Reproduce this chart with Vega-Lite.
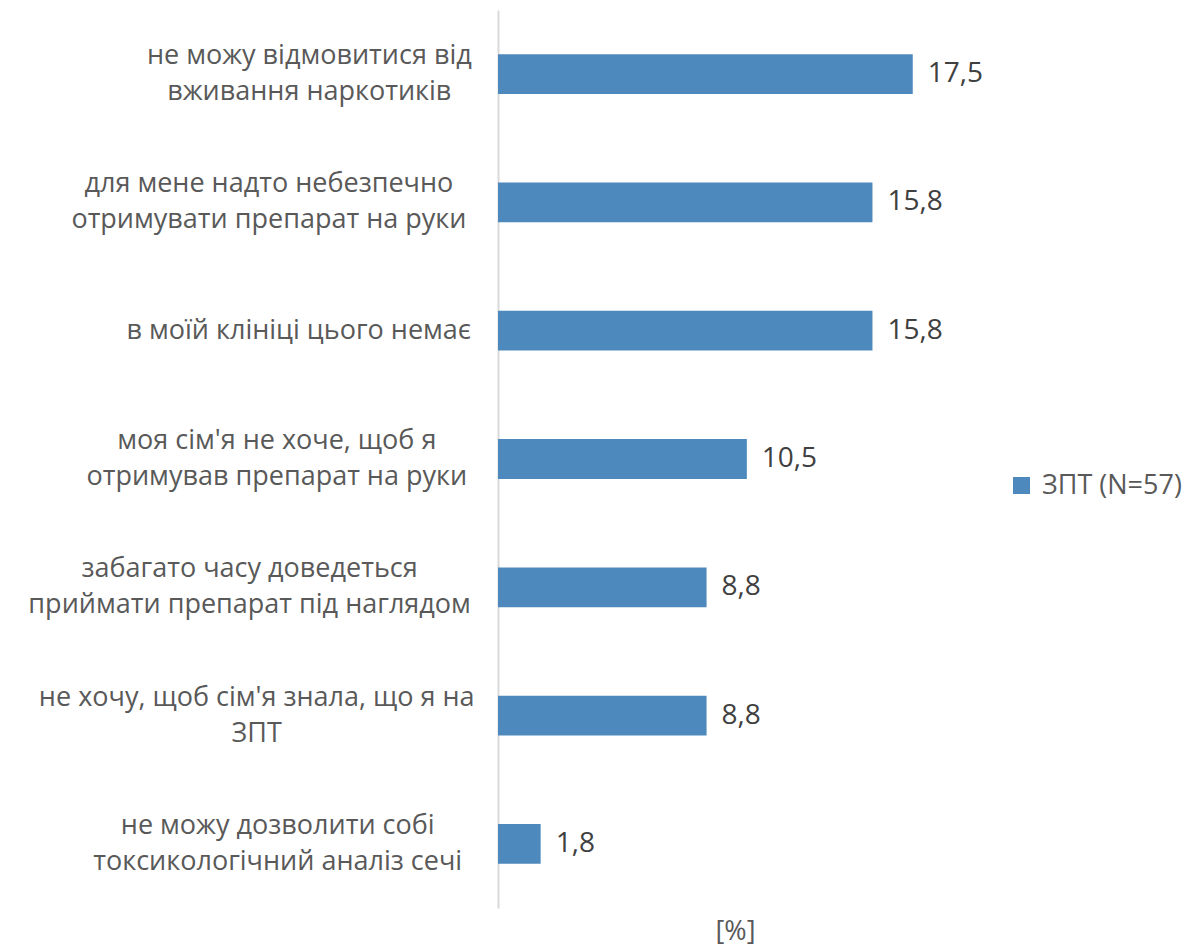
{
  "$schema": "https://vega.github.io/schema/vega-lite/v6.json",
  "width": 474,
  "height": 898,
  "autosize": {"type": "none"},
  "padding": {"left": 498, "top": 10, "right": 214, "bottom": 40},
  "background": "#ffffff",
  "config": {
    "view": {"stroke": null},
    "font": "Open Sans",
    "locale": {"number": {"decimal": ",", "thousands": " ", "grouping": [3], "currency": ["", ""]}}
  },
  "data": {
    "values": [
      {"reason": "не можу відмовитися від|вживання наркотиків", "value": 17.5, "series": "ЗПТ (N=57)"},
      {"reason": "для мене надто небезпечно|отримувати препарат на руки", "value": 15.8, "series": "ЗПТ (N=57)"},
      {"reason": "в моїй клініці цього немає", "value": 15.8, "series": "ЗПТ (N=57)"},
      {"reason": "моя сім'я не хоче, щоб я|отримував препарат на руки", "value": 10.5, "series": "ЗПТ (N=57)"},
      {"reason": "забагато часу доведеться|приймати препарат під наглядом", "value": 8.8, "series": "ЗПТ (N=57)"},
      {"reason": "не хочу, щоб сім'я знала, що я на|ЗПТ", "value": 8.8, "series": "ЗПТ (N=57)"},
      {"reason": "не можу дозволити собі|токсикологічний аналіз сечі", "value": 1.8, "series": "ЗПТ (N=57)"}
    ]
  },
  "encoding": {
    "y": {
      "field": "reason",
      "type": "nominal",
      "sort": null,
      "scale": {"paddingInner": 0.69, "paddingOuter": 0.345},
      "axis": {
        "title": null,
        "ticks": false,
        "grid": false,
        "labels": false,
        "domain": true,
        "domainColor": "#d9d9d9",
        "domainWidth": 2
      }
    },
    "x": {
      "field": "value",
      "type": "quantitative",
      "scale": {"domain": [0, 20]},
      "axis": {
        "title": "[%]",
        "labels": false,
        "ticks": false,
        "domain": false,
        "grid": false,
        "titleFontSize": 27,
        "titleFontWeight": "normal",
        "titleColor": "#595959",
        "titlePadding": 10
      }
    }
  },
  "layer": [
    {
      "mark": {"type": "bar", "color": "#4E89BD"},
      "encoding": {
        "color": {
          "field": "series",
          "type": "nominal",
          "scale": {"range": ["#4E89BD"]},
          "legend": {
            "title": null,
            "orient": "none",
            "legendX": 510,
            "legendY": 462,
            "padding": 0,
            "symbolType": "square",
            "symbolSize": 289,
            "symbolStrokeWidth": 0,
            "labelFontSize": 27,
            "labelColor": "#595959",
            "labelOffset": 7,
            "labelLimit": 0
          }
        }
      }
    },
    {
      "mark": {"type": "text", "align": "left", "baseline": "middle", "dx": 15, "fontSize": 28, "color": "#404040"},
      "encoding": {
        "text": {"field": "value", "type": "quantitative", "format": ".1f"}
      }
    },
    {
      "mark": {
        "type": "text",
        "align": "center",
        "baseline": "middle",
        "lineBreak": "|",
        "lineHeight": 36,
        "fontSize": 27,
        "color": "#595959",
        "dx": {"expr": "-29 - max(7.9 * length(split(datum.reason, '|')[0]) - 4.4 * (length(split(datum.reason, '|')[0]) - length(replace(split(datum.reason, '|')[0], regexp(\"[ іїʼ',.]\", \"g\"), ''))), 7.9 * length(peek(split(datum.reason, '|'))) - 4.4 * (length(peek(split(datum.reason, '|'))) - length(replace(peek(split(datum.reason, '|')), regexp(\"[ іїʼ',.]\", \"g\"), ''))))"},
        "dy": {"expr": "-(length(split(datum.reason, '|')) - 1) * 18"}
      },
      "encoding": {
        "x": {"datum": 0},
        "text": {"field": "reason", "type": "nominal"}
      }
    }
  ]
}
